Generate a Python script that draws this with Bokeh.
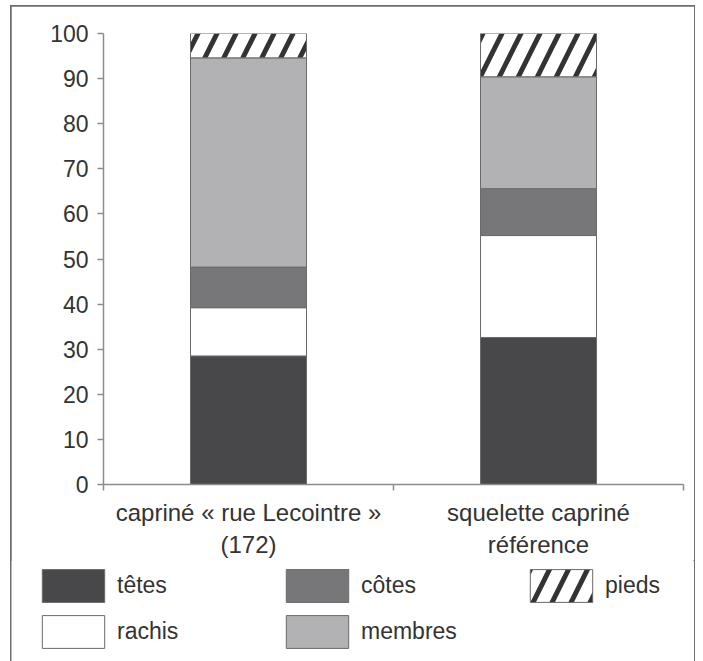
from bokeh.plotting import figure
from bokeh.layouts import column
from bokeh.models import ColumnDataSource, FixedTicker, Legend, LegendItem, Range1d
from bokeh.embed import file_html
from bokeh.resources import INLINE

# ---- data ----
categories = ["capriné « rue Lecointre »\n(172)", "squelette capriné\nréférence"]
positions = [0.5, 1.5]
series = ["têtes", "rachis", "côtes", "membres", "pieds"]
tetes = [28.5, 32.6]
rachis = [10.7, 22.6]
cotes = [9.0, 10.4]
membres = [46.4, 24.8]
pieds = [5.4, 9.6]
y_ticks = [0, 10, 20, 30, 40, 50, 60, 70, 80, 90, 100]

keys = ["tetes", "rachis", "cotes", "membres", "pieds"]
colors = ["#48484a", "#ffffff", "#77777a", "#b2b2b5", "#ffffff"]
hatches = [" ", " ", " ", " ", "/"]
FONT = "Liberation Sans"
HATCH = dict(hatch_color="#333333", hatch_scale=38, hatch_weight=5)
LINE = dict(line_color="#6a6a6a", line_width=1)

source = ColumnDataSource(dict(x=positions, tetes=tetes, rachis=rachis, cotes=cotes,
                               membres=membres, pieds=pieds))

p = figure(width=683, height=554, output_backend="svg", toolbar_location=None,
           x_range=Range1d(0, 2), y_range=Range1d(0, 100),
           min_border_left=92, min_border_right=11, min_border_top=27, min_border_bottom=74)
p.frame_align = False
p.outline_line_color = None
p.xgrid.visible = False
p.ygrid.visible = False

renderers = p.vbar_stack(keys, x="x", width=0.4,
                         source=source, fill_color=colors, hatch_pattern=hatches,
                         **HATCH, **LINE)

# y axis
ya = p.yaxis[0]
ya.ticker = FixedTicker(ticks=y_ticks, minor_ticks=[])
ya.axis_line_color = "#8c8c8c"
ya.axis_line_width = 1.5
ya.major_tick_line_color = "#8c8c8c"
ya.major_tick_line_width = 1.5
ya.major_tick_out = 6
ya.major_tick_in = 0
ya.major_label_text_font = FONT
ya.major_label_text_font_size = "23px"
ya.major_label_text_color = "#333333"
ya.major_label_standoff = 9

# x axis
xa = p.xaxis[0]
xa.ticker = FixedTicker(ticks=positions, minor_ticks=[0, 1, 2])
xa.major_label_overrides = {pos: lab for pos, lab in zip(positions, categories)}
xa.axis_line_color = "#8c8c8c"
xa.axis_line_width = 1.5
xa.major_tick_line_color = None
xa.minor_tick_line_color = "#8c8c8c"
xa.minor_tick_line_width = 1.5
xa.minor_tick_out = 6
xa.minor_tick_in = 0
xa.major_label_text_font = FONT
xa.major_label_text_font_size = "24px"
xa.major_label_text_color = "#333333"
xa.major_label_standoff = 8

# ---- legend figure (hidden copies of the series give the swatches) ----
q = figure(width=683, height=101, output_backend="svg", toolbar_location=None,
           x_axis_type=None, y_axis_type=None, x_range=Range1d(0, 1), y_range=Range1d(0, 1),
           min_border_left=0, min_border_right=0, min_border_top=0, min_border_bottom=0)
q.frame_align = False
q.outline_line_color = None
q.xgrid.visible = False
q.ygrid.visible = False
swatches = [q.vbar(x="x", top=k, width=0.4, source=source, fill_color=c, hatch_pattern=h,
                   visible=False, **HATCH, **LINE)
            for k, c, h in zip(keys, colors, hatches)]

order = [0, 2, 4, 1, 3]
items = [LegendItem(label=series[i], renderers=[swatches[i]]) for i in order]
legend = Legend(items=items, location=(23, 9), orientation="horizontal", ncols=3,
                glyph_width=78, glyph_height=41, label_standoff=5, label_width=156,
                spacing=5, padding=0, margin=0, border_line_color=None,
                background_fill_alpha=0, label_text_font=FONT, label_text_font_size="23px",
                label_text_color="#333333", click_policy="none")
q.add_layout(legend, "center")

layout = column(p, q, spacing=0)
layout.styles = {"outline": "2px solid #6e6e6e", "outline-offset": "-1px",
                 "margin-left": "11px", "margin-top": "6px"}

open("out.html", "w").write(file_html(layout, INLINE))
